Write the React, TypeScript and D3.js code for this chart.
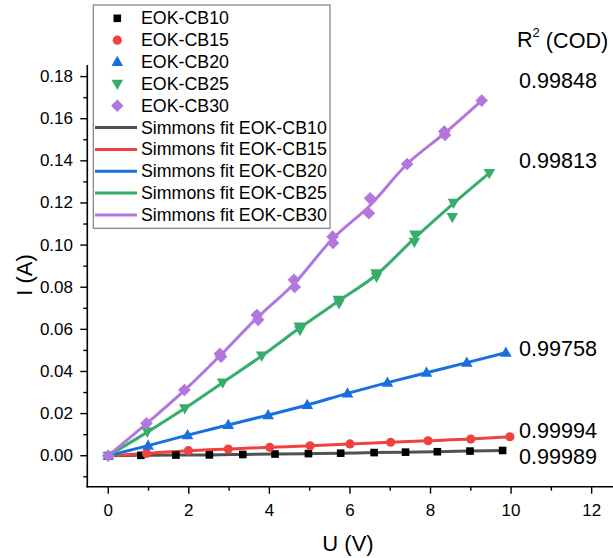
import React from "react";
import * as d3 from "d3";

// ---- data ----
const seriesNames = ["EOK-CB10", "EOK-CB15", "EOK-CB20", "EOK-CB25", "EOK-CB30"];
const fitNames = seriesNames.map((s) => `Simmons fit ${s}`);
const r2Labels = ["0.99989", "0.99994", "0.99758", "0.99813", "0.99848"];

const V10 = [0, 0.81, 1.68, 2.51, 3.34, 4.14, 4.97, 5.77, 6.6, 7.38, 8.17, 8.98, 9.79];
const I10 = [0, 0.0002, 0.0003, 0.0004, 0.0006, 0.0008, 0.001, 0.0012, 0.0015, 0.0017, 0.0019, 0.0022, 0.0025];

const V15 = [0, 0.95, 1.99, 2.98, 4.01, 5.01, 6.0, 7.01, 7.94, 9.0, 9.97];
const I15 = [0, 0.0011, 0.0024, 0.0032, 0.004, 0.0047, 0.0056, 0.0064, 0.0071, 0.0079, 0.009];

const V20 = [0, 0.99, 1.97, 2.98, 3.97, 4.94, 5.94, 6.93, 7.9, 8.9, 9.87];
const I20 = [0, 0.0048, 0.0098, 0.0146, 0.0193, 0.0241, 0.0296, 0.0347, 0.0394, 0.0442, 0.0489];

const V25 = [0, 0.97, 1.9, 2.84, 3.81, 4.74, 4.76, 5.71, 5.73, 6.65, 6.66, 7.6, 7.61, 8.57, 8.54, 9.46];
const I25 = [0, 0.0114, 0.0225, 0.0347, 0.0475, 0.0613, 0.0597, 0.074, 0.0724, 0.0866, 0.085, 0.1016, 0.105, 0.1201, 0.1133, 0.1342];

const V30 = [0, 0.95, 1.89, 2.77, 2.8, 3.69, 3.72, 4.61, 4.63, 5.57, 5.58, 6.5, 6.47, 7.42, 8.34, 8.36, 9.27];
const I30 = [0, 0.0154, 0.0312, 0.0484, 0.047, 0.0668, 0.0645, 0.0835, 0.0801, 0.104, 0.101, 0.1222, 0.1151, 0.1385, 0.1539, 0.1523, 0.1686];

// fit curves
const fitV10 = V10, fitI10 = I10;
const fitV15 = V15, fitI15 = I15;
const fitV20 = V20, fitI20 = I20;
const fitV25 = [0, 0.97, 1.9, 2.84, 3.81, 4.75, 5.72, 6.65, 7.6, 8.55, 9.46];
const fitI25 = [0, 0.0112, 0.0225, 0.0347, 0.0474, 0.0606, 0.0735, 0.0858, 0.1032, 0.1195, 0.1342];
const fitV30 = [0, 0.95, 1.89, 2.78, 3.7, 4.62, 5.57, 6.49, 7.42, 8.35, 9.27];
const fitI30 = [0, 0.0152, 0.031, 0.0476, 0.0656, 0.0818, 0.103, 0.1187, 0.1385, 0.1531, 0.1686];

const xMajor = [0, 2, 4, 6, 8, 10, 12];
const xMinor = [1, 3, 5, 7, 9, 11];
const yMajor = [0, 0.02, 0.04, 0.06, 0.08, 0.1, 0.12, 0.14, 0.16, 0.18];
const yMinor = [-0.01, 0.01, 0.03, 0.05, 0.07, 0.09, 0.11, 0.13, 0.15, 0.17];

// ---- styling ----
const markerColors = ["#000000", "#F14040", "#1A6FDF", "#37AD6B", "#B177DE"];
const lineColors = ["#515151", "#F14040", "#1A6FDF", "#37AD6B", "#B177DE"];
const shapes = ["square", "circle", "triUp", "triDown", "diamond"];
const FONT = "'Liberation Sans', Arial, Helvetica, sans-serif";

function markerPath(shape: string): string {
  switch (shape) {
    case "square":
      return "M-3.8,-3.8H3.8V3.8H-3.8Z";
    case "circle":
      return d3.symbol(d3.symbolCircle, 66)()!;
    case "triUp":
      return "M0,-6.2L5.8,4.1L-5.8,4.1Z";
    case "triDown":
      return "M0,6.2L5.8,-4.1L-5.8,-4.1Z";
    case "diamond":
      return "M0,-6.3L6.3,0L0,6.3L-6.3,0Z";
  }
  return "";
}

export default function App() {
  const W = 613, H = 558;
  const x = d3.scaleLinear().domain([-0.52, 12.53]).range([87.3, 613]);
  const y = d3.scaleLinear().domain([-0.0147, 0.1855]).range([486.7, 65]);

  const scatter = [
    [V10, I10],
    [V15, I15],
    [V20, I20],
    [V25, I25],
    [V30, I30],
  ];
  const fits = [
    [fitV10, fitI10],
    [fitV15, fitI15],
    [fitV20, fitI20],
    [fitV25, fitI25],
    [fitV30, fitI30],
  ];
  const line = d3
    .line<[number, number]>()
    .x((d) => x(d[0]))
    .y((d) => y(d[1]))
    .curve(d3.curveMonotoneX);

  const x0 = x.range()[0];
  const yBottom = y.range()[0];
  const yTop = y.range()[1];

  // R² label layout (pixel anchor positions for annotation text)
  const r2X = 519;
  const r2Y = [456, 430, 348.5, 160, 80];

  const legendRows = [...seriesNames, ...fitNames];
  const legX = 93.3, legY = 5, legW = 236.7, legH = 223.3;
  const rowY0 = 18.3, rowStep = 21.85;

  return (
    <svg
      width={W}
      height={H}
      style={{ position: "absolute", left: 0, top: 0, background: "#fff" }}
      fontFamily={FONT}
    >
      <rect x={0} y={0} width={W} height={H} fill="#fff" />

      {/* axes */}
      <line x1={x0} x2={x0} y1={yTop} y2={yBottom + 0.8} stroke="#000" strokeWidth={1.6} />
      <line x1={x0 - 0.8} x2={W} y1={yBottom} y2={yBottom} stroke="#000" strokeWidth={1.6} />
      {xMajor.map((t) => (
        <g key={"xm" + t}>
          <line x1={x(t)} x2={x(t)} y1={yBottom} y2={yBottom + 7} stroke="#000" strokeWidth={1.4} />
          <text x={x(t)} y={510} textAnchor="middle" dominantBaseline="central" fontSize={17}>
            {t}
          </text>
        </g>
      ))}
      {xMinor.map((t) => (
        <line key={"xn" + t} x1={x(t)} x2={x(t)} y1={yBottom} y2={yBottom + 4} stroke="#000" strokeWidth={1.4} />
      ))}
      {yMajor.map((t) => (
        <g key={"ym" + t}>
          <line x1={x0 - 7} x2={x0} y1={y(t)} y2={y(t)} stroke="#000" strokeWidth={1.4} />
          <text x={73} y={y(t)} textAnchor="end" dominantBaseline="central" fontSize={17}>
            {t.toFixed(2)}
          </text>
        </g>
      ))}
      {yMinor.map((t) => (
        <line key={"yn" + t} x1={x0 - 4} x2={x0} y1={y(t)} y2={y(t)} stroke="#000" strokeWidth={1.4} />
      ))}

      <text x={348} y={543} textAnchor="middle" dominantBaseline="central" fontSize={22}>
        U (V)
      </text>
      <text
        transform={`translate(24,275) rotate(-90)`}
        textAnchor="middle"
        dominantBaseline="central"
        fontSize={22}
      >
        I (A)
      </text>

      {/* fit lines */}
      {fits.map(([vs, is], k) => (
        <path
          key={"fit" + k}
          d={line(vs.map((v, i) => [v, is[i]] as [number, number]))!}
          fill="none"
          stroke={lineColors[k]}
          strokeWidth={3}
          strokeLinejoin="round"
        />
      ))}

      {/* scatter markers */}
      {scatter.map(([vs, is], k) => (
        <g key={"sc" + k} fill={markerColors[k]}>
          {vs.map((v, i) => (
            <path key={i} d={markerPath(shapes[k])} transform={`translate(${x(v)},${y(is[i])})`} />
          ))}
        </g>
      ))}

      {/* legend */}
      <rect x={legX} y={legY} width={legW} height={legH} fill="#fff" stroke="#7f7f7f" strokeWidth={1.2} />
      {legendRows.map((name, r) => {
        const cy = rowY0 + r * rowStep;
        const isFit = r >= 5;
        const k = r % 5;
        return (
          <g key={"leg" + r}>
            {isFit ? (
              <line x1={95} x2={137} y1={cy} y2={cy} stroke={lineColors[k]} strokeWidth={3} />
            ) : (
              <path d={markerPath(shapes[k])} transform={`translate(117.3,${cy})`} fill={markerColors[k]} />
            )}
            <text x={141} y={cy} dominantBaseline="central" fontSize={17.8}>
              {name}
            </text>
          </g>
        );
      })}

      {/* R² annotations */}
      <text x={517} y={39.5} dominantBaseline="central" fontSize={21.6}>
        R
        <tspan fontSize={13} dy={-8}>2</tspan>
        <tspan dy={8}> (COD)</tspan>
      </text>
      {r2Labels.map((lab, k) => (
        <text key={"r2" + k} x={r2X} y={r2Y[k]} dominantBaseline="central" fontSize={21.6}>
          {lab}
        </text>
      ))}
    </svg>
  );
}
